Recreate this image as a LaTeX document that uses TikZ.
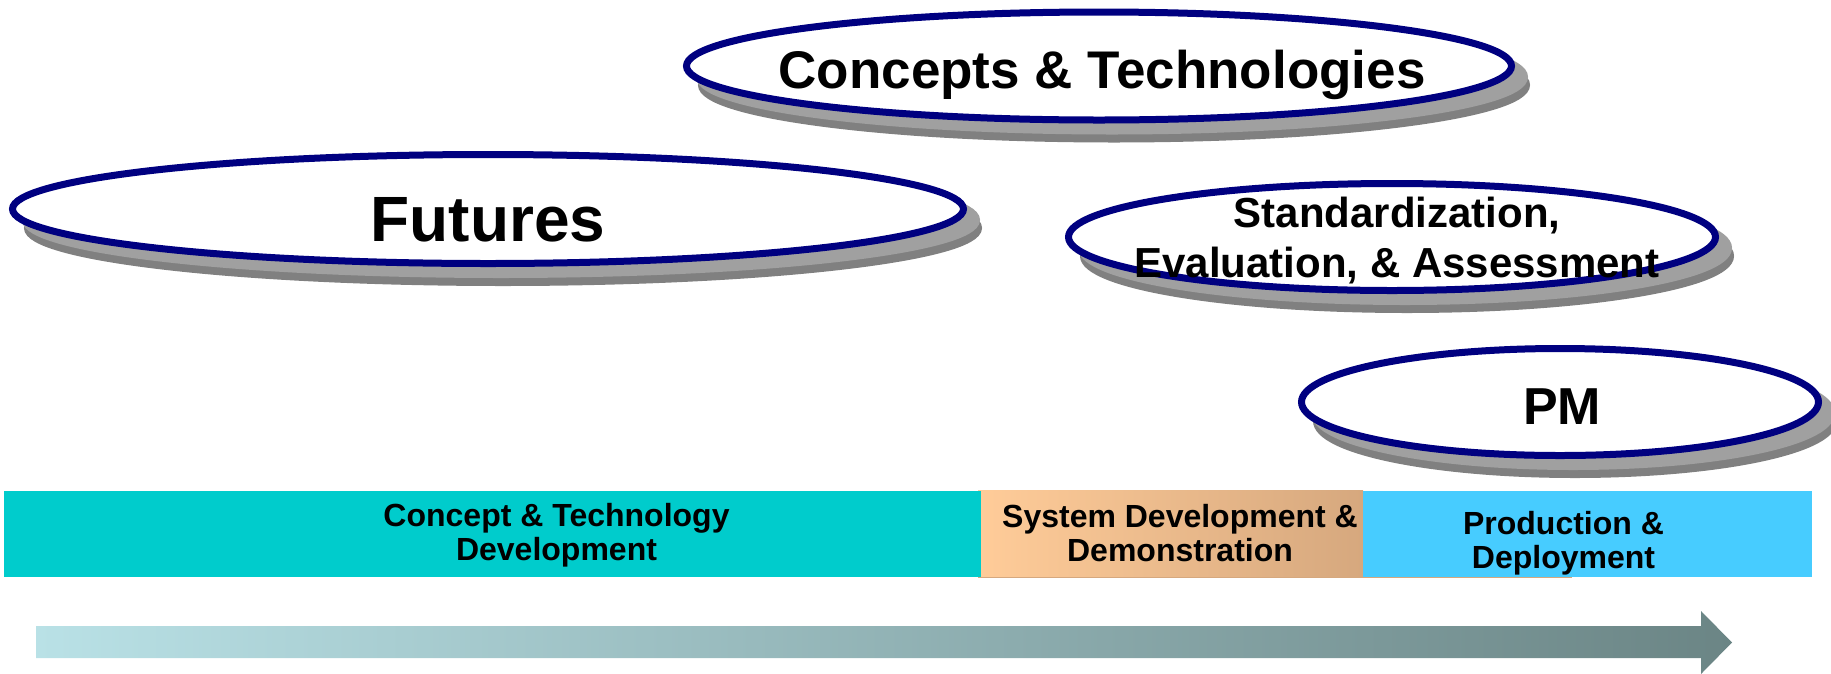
\documentclass[tikz,border=0pt]{standalone}
\usepackage{fontspec}
\setmainfont{Liberation Sans}
\usetikzlibrary{shapes.geometric,shadows}
\definecolor{navy}{RGB}{0,0,128}
\definecolor{shlight}{RGB}{160,160,160}
\definecolor{shdark}{RGB}{128,128,128}
\definecolor{tealbar}{RGB}{0,204,204}
\definecolor{orangeL}{RGB}{255,204,153}
\definecolor{orangeR}{RGB}{214,168,126}
\definecolor{bluebar}{RGB}{71,204,255}
\definecolor{arrowL}{RGB}{185,225,230}
\definecolor{arrowR}{RGB}{107,133,133}
\begin{document}
\begin{tikzpicture}[x=1pt,y=-1pt,
  oval/.style={ellipse, draw=navy, line width=7pt, fill=white, inner sep=0pt,
    general shadow={fill=shdark, draw=shdark, line width=7pt, shadow xshift=15pt, shadow yshift=-19pt},
    general shadow={fill=shlight, draw=shlight, line width=7pt, shadow xshift=13pt, shadow yshift=-11pt}},
  lbl/.style={font=\bfseries, text=black, inner sep=0pt, anchor=base, align=center},
  bartxt/.style={lbl, font=\bfseries\fontsize{32}{34}\selectfont},
  bar/.style={draw=none, inner sep=0pt, outer sep=0pt, anchor=north west}
]
\useasboundingbox (0,0) rectangle (1831,673);
% ellipses
\node[oval, minimum width=825pt, minimum height=108pt] (conc) at (1099,66) {};
\node[oval, minimum width=951pt, minimum height=109pt] (fut) at (488,209) {};
\node[oval, minimum width=647pt, minimum height=107pt] (std) at (1392,237) {};
\node[oval, minimum width=517pt, minimum height=107pt] (pm) at (1560,402) {};
% ellipse texts (base = last line)
\node[lbl, font=\bfseries\fontsize{53}{60}\selectfont] (concT) at (1102,88) {Concepts \& Technologies};
\node[lbl, font=\bfseries\fontsize{64}{70}\selectfont] (futT) at (488,241) {Futures};
\node[lbl, font=\bfseries\fontsize{42}{50}\selectfont] (stdT) at (1397,277) {Standardization,\\Evaluation, \& Assessment};
\node[lbl, font=\bfseries\fontsize{52}{60}\selectfont] (pmT) at (1562,424) {PM};
% phase bars
\node[bar, fill=orangeR, minimum width=594pt, minimum height=87.5pt] (sddStrip) at (978,490.5) {};
\node[bar, left color=orangeL, right color=orangeR, minimum width=385pt, minimum height=86pt] (sdd) at (978,490.5) {};
\node[bar, fill=tealbar, minimum width=977pt, minimum height=86pt] (ctd) at (3.5,490.5) {};
\node[bar, fill=bluebar, minimum width=449pt, minimum height=86pt] (pd) at (1363,490.5) {};
\node[bartxt] (ctdT) at (556.5,560) {Concept \& Technology\\Development};
\node[bartxt] (sddT) at (1180,561) {System Development \&\\Demonstration};
\node[bartxt] (pdT) at (1563.5,568) {Production \&\\Deployment};
% timeline arrow
\shade[left color=arrowL, right color=arrowR]
  (36,626) -- (1701,626) -- (1701,611) -- (1732,642.5) -- (1701,674) -- (1701,658) -- (36,658) -- cycle;
\end{tikzpicture}
\end{document}
